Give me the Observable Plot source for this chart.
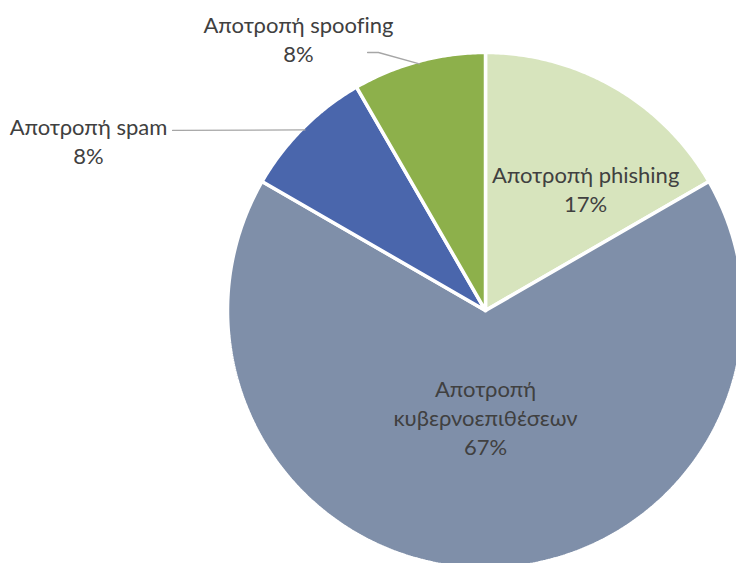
<!DOCTYPE html>
<html><head><meta charset="utf-8">
<script src="https://cdn.jsdelivr.net/npm/d3@7"></script>
<script src="https://cdn.jsdelivr.net/npm/@observablehq/plot@0.6"></script>
<style>html,body{margin:0;padding:0;background:#fff;overflow:hidden} svg text{font-variant-ligatures:none;font-feature-settings:"liga" 0}</style>
</head><body><div id="chart"></div>
<script>
// Data
const categories = ["Αποτροπή phishing", "Αποτροπή κυβερνοεπιθέσεων", "Αποτροπή spam", "Αποτροπή spoofing"];
const values = [2, 8, 1, 1];
const labelTexts = ["Αποτροπή phishing\n17%", "Αποτροπή\nκυβερνοεπιθέσεων\n67%", "Αποτροπή spam\n8%", "Αποτροπή spoofing\n8%"];
const colors = ["#D7E4BD", "#7F8FA9", "#4A66AC", "#8DB04B"];

// Layout (in units of the pie radius; centre at 0,0)
const W = 736, H = 563, R = 258, CX = 485, CY = 310;
const labelPos = [[0.388, 0.473], [0, -0.411], [-1.539, 0.659], [-0.725, 1.054]];
const leaderStart = [null, null, [-1.213, 0.698], [-0.457, 1.0]];
const leaderKnee = [null, null, null, [-0.415, 1.0]];

const arcs = d3.pie().sort(null).value(d => d)(values);
const pt = (a, r) => ({x: r * Math.sin(a), y: r * Math.cos(a)});

const slicePts = [];
arcs.forEach((a, i) => {
  const cat = categories[i];
  slicePts.push({cat, ...pt(0, 0)});
  const n = Math.max(8, Math.ceil((a.endAngle - a.startAngle) / 0.01));
  for (let k = 0; k <= n; k++) {
    const ang = a.startAngle + (a.endAngle - a.startAngle) * k / n;
    slicePts.push({cat, ...pt(ang, 1)});
  }
  slicePts.push({cat, ...pt(0, 0)});
});

const leaderPts = [];
arcs.forEach((a, i) => {
  if (!leaderStart[i]) return;
  const id = categories[i];
  leaderPts.push({id, x: leaderStart[i][0], y: leaderStart[i][1]});
  if (leaderKnee[i]) leaderPts.push({id, x: leaderKnee[i][0], y: leaderKnee[i][1]});
  const mid = (a.startAngle + a.endAngle) / 2;
  leaderPts.push({id, ...pt(mid, 0.99)});
});

const labels = categories.map((c, i) => ({text: labelTexts[i], x: labelPos[i][0], y: labelPos[i][1]}));

const chart = Plot.plot({
  width: W, height: H, margin: 0,
  x: {domain: [-CX / R, (W - CX) / R], axis: null},
  y: {domain: [-(H - CY) / R, CY / R], axis: null},
  color: {domain: categories, range: colors},
  style: {background: "#fff"},
  marks: [
    Plot.line(slicePts, {x: "x", y: "y", z: "cat", fill: "cat", stroke: "white", strokeWidth: 3.5, strokeLinejoin: "miter", curve: "linear"}),
    Plot.line(leaderPts, {x: "x", y: "y", z: "id", stroke: "#a6a6a6", strokeWidth: 1.3}),
    Plot.text(labels, {x: "x", y: "y", text: "text", fill: "#404040", fontSize: 22, lineHeight: 1.32, fontFamily: "Lato"})
  ]
});
document.getElementById("chart").appendChild(chart);
</script>
</body></html>
